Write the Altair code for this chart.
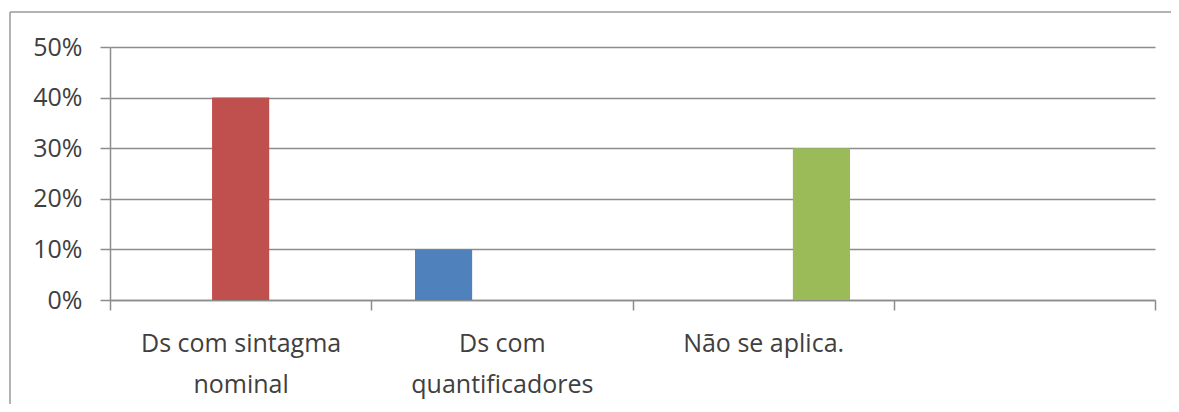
import altair as alt
import pandas as pd

# ---- data ----
categories = ["Ds com sintagma\nnominal", "Ds com\nquantificadores", "Não se aplica.", " "]
series = ["Série 1", "Série 2", "Série 3"]
colors = ["#4F81BD", "#C0504D", "#9BBB59"]
bar_category = ["Ds com sintagma\nnominal", "Ds com\nquantificadores", "Não se aplica."]
bar_series = ["Série 2", "Série 1", "Série 3"]
bar_value = [0.40, 0.10, 0.30]
y_ticks = [0, 0.1, 0.2, 0.3, 0.4, 0.5]

df = pd.DataFrame({"categoria": bar_category, "serie": bar_series, "valor": bar_value})

W, H = 1045, 253
GRID = "#8c8c8c"
FRAME = "#9a9a9a"
TEXT = "#404040"
FONT = "Open Sans"
FS = 25

bars = alt.Chart(df).mark_bar().encode(
    x=alt.X(
        "categoria:N",
        sort=None,
        scale=alt.Scale(domain=categories, paddingInner=0, paddingOuter=0),
        axis=alt.Axis(
            title=None,
            labelAngle=0,
            labelExpr="datum.value ? split(datum.value, '\\n') : ''",
            labelLimit=0,
            labelFont=FONT,
            labelFontSize=FS,
            labelColor=TEXT,
            labelLineHeight=41,
            labelPadding=21,
            tickBand="extent",
            tickSize=10,
            tickColor=GRID,
            tickWidth=1.5,
            domainColor=GRID,
            domainWidth=1.5,
            grid=False,
        ),
    ),
    xOffset=alt.XOffset(
        "serie:N", scale=alt.Scale(domain=series, paddingInner=0.02, paddingOuter=0.75)
    ),
    y=alt.Y(
        "valor:Q",
        scale=alt.Scale(domain=[0, 0.5]),
        axis=alt.Axis(
            title=None,
            values=y_ticks,
            format=".0%",
            labelFont=FONT,
            labelFontSize=FS,
            labelColor=TEXT,
            labelPadding=18,
            tickSize=10,
            tickColor=GRID,
            tickWidth=1.5,
            domainColor=GRID,
            domainWidth=1.5,
            gridColor=GRID,
            gridWidth=1.5,
        ),
    ),
    color=alt.Color("serie:N", scale=alt.Scale(domain=series, range=colors), legend=None),
)

frame_top = alt.Chart(alt.Data(values=[{}])).mark_rule(
    stroke=FRAME, strokeWidth=1.5
).encode(x=alt.value(-100), x2=alt.value(W + 16), y=alt.value(-35))

frame_left = alt.Chart(alt.Data(values=[{}])).mark_rule(
    stroke=FRAME, strokeWidth=1.5
).encode(x=alt.value(-100), y=alt.value(-35), y2=alt.value(H + 104))

chart = (
    alt.layer(frame_top, frame_left, bars)
    .properties(
        width=W,
        height=H,
        autosize=alt.AutoSizeParams(type="none"),
        padding={"left": 102, "top": 39, "right": 16, "bottom": 104},
        background="white",
    )
    .configure_view(stroke=None)
)

chart.save("out.html", embed_options={"renderer": "svg", "actions": False})
